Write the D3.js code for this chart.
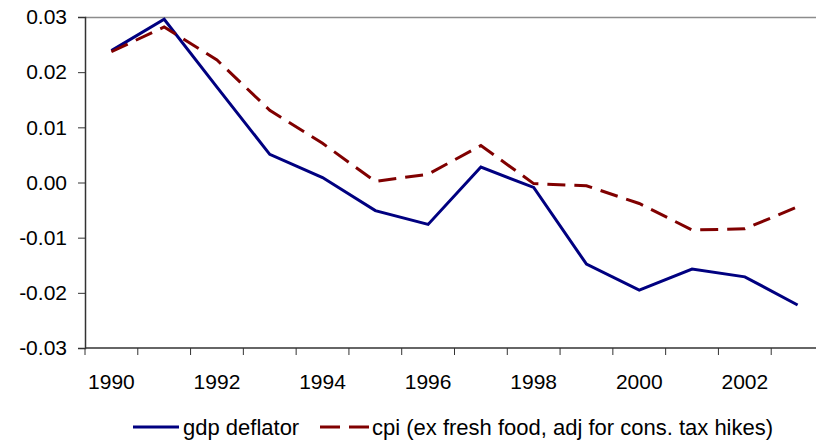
<!DOCTYPE html>
<html>
<head>
<meta charset="utf-8">
<script src="https://cdn.jsdelivr.net/npm/d3@7"></script>
<style>
  html, body { margin: 0; padding: 0; background: #fff; }
  svg { display: block; font-family: "Liberation Sans", Arial, sans-serif; }
</style>
</head>
<body>
<svg id="chart" width="816" height="444"></svg>
<script>
const years = [1990,1991,1992,1993,1994,1995,1996,1997,1998,1999,2000,2001,2002,2003];
const gdpDeflator = [0.0239,0.0296,0.0173,0.0051,0.0009,-0.0051,-0.0076,0.0028,-0.0009,-0.0148,-0.0195,-0.0157,-0.0171,-0.0222];
const cpi = [0.0237,0.0282,0.0222,0.0131,0.0071,0.0002,0.0015,0.0067,-0.0002,-0.0006,-0.0038,-0.0086,-0.0084,-0.0044];
const yTicks = [-0.03,-0.02,-0.01,0.00,0.01,0.02,0.03];
const xLabelYears = [1990,1992,1994,1996,1998,2000,2002];
const seriesNames = ["gdp deflator", "cpi (ex fresh food, adj for cons. tax hikes)"];

const svg = d3.select("#chart");
const mLeft = 85, mRight = 824, mTop = 17, mBottom = 348;

const x = d3.scaleBand().domain(years).range([mLeft, mRight]).padding(0);
const y = d3.scaleLinear().domain([-0.03, 0.03]).range([mBottom, mTop]);
const fmt = v => d3.format(".2f")(v).replace("\u2212", "-");

// top frame line
svg.append("line").attr("x1", mLeft).attr("x2", mRight).attr("y1", mTop + 0.5).attr("y2", mTop + 0.5)
  .attr("stroke", "#8c8c8c").attr("stroke-width", 1.5);

// Y axis
const yAxis = svg.append("g").attr("transform", `translate(${mLeft},0)`)
  .call(d3.axisLeft(y).tickValues(yTicks).tickFormat(fmt).tickSize(7).tickPadding(11));
yAxis.select(".domain").attr("stroke", "#333").attr("stroke-width", 1.5);
yAxis.selectAll(".tick line").attr("stroke", "#333").attr("stroke-width", 1);
yAxis.selectAll(".tick text").attr("font-size", 21).attr("fill", "#000")
  .attr("font-family", "Liberation Sans, Arial, sans-serif");

// X axis
const xAxisG = svg.append("g").attr("transform", `translate(0,${mBottom})`);
xAxisG.append("line").attr("x1", mLeft).attr("x2", mRight).attr("stroke", "#333").attr("stroke-width", 1.5);
const boundaries = years.map(d => x(d)).concat([x(years[years.length-1]) + x.bandwidth()]);
xAxisG.selectAll("line.tk").data(boundaries).join("line").attr("class", "tk")
  .attr("x1", d => d).attr("x2", d => d).attr("y1", 0).attr("y2", 7)
  .attr("stroke", "#333").attr("stroke-width", 1);
xAxisG.selectAll("text").data(xLabelYears).join("text")
  .attr("x", d => x(d) + x.bandwidth() / 2).attr("y", 41)
  .attr("text-anchor", "middle").attr("font-size", 21).attr("fill", "#000")
  .text(d => d);

// Lines
const line = d3.line().x((d, i) => x(years[i]) + x.bandwidth() / 2).y(d => y(d));
svg.append("path").datum(gdpDeflator).attr("d", line)
  .attr("fill", "none").attr("stroke", "#000080").attr("stroke-width", 3).attr("stroke-linejoin", "miter");
svg.append("path").datum(cpi).attr("d", line)
  .attr("fill", "none").attr("stroke", "#800000").attr("stroke-width", 3).attr("stroke-dasharray", "18,9");

// Legend
const lg = svg.append("g");
lg.append("line").attr("x1", 133).attr("x2", 179).attr("y1", 427).attr("y2", 427)
  .attr("stroke", "#000080").attr("stroke-width", 3);
lg.append("text").attr("x", 183).attr("y", 435).attr("font-size", 22).attr("fill", "#000").text(seriesNames[0]);
lg.append("line").attr("x1", 320).attr("x2", 369).attr("y1", 427).attr("y2", 427)
  .attr("stroke", "#800000").attr("stroke-width", 3).attr("stroke-dasharray", "20,9");
lg.append("text").attr("x", 372).attr("y", 435).attr("font-size", 22).attr("fill", "#000").text(seriesNames[1]);
</script>
</body>
</html>
